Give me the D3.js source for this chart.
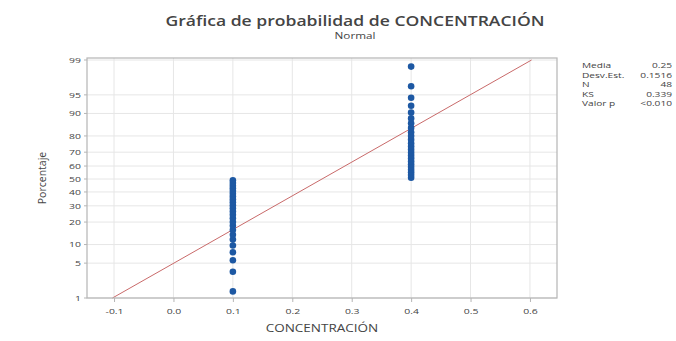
<!DOCTYPE html>
<html>
<head>
<meta charset="utf-8">
<script src="https://cdn.jsdelivr.net/npm/d3@7"></script>
<style>
  body { margin: 0; background: #fff; }
  text { font-family: "Open Sans", "Noto Sans", sans-serif; fill: #444; }
</style>
</head>
<body>
<svg id="chart" width="676" height="341"></svg>
<script>
// valores
var concentracion = [0.1,0.1,0.1,0.1,0.1,0.1,0.1,0.1,0.1,0.1,0.1,0.1,
                     0.1,0.1,0.1,0.1,0.1,0.1,0.1,0.1,0.1,0.1,0.1,0.1,
                     0.4,0.4,0.4,0.4,0.4,0.4,0.4,0.4,0.4,0.4,0.4,0.4,
                     0.4,0.4,0.4,0.4,0.4,0.4,0.4,0.4,0.4,0.4,0.4,0.4];
var porcentaje = [1.4,3.5,5.6,7.6,9.7,11.8,13.8,15.9,18.0,20.0,22.1,24.2,
                  26.2,28.3,30.4,32.4,34.5,36.6,38.6,40.7,42.8,44.8,46.9,49.0,
                  51.0,53.1,55.2,57.2,59.3,61.4,63.4,65.5,67.6,69.6,71.7,73.8,
                  75.8,77.9,80.0,82.0,84.1,86.2,88.2,90.3,92.4,94.4,96.5,98.6];
var xTicks = [-0.1,0.0,0.1,0.2,0.3,0.4,0.5,0.6];
var yTicks = [1,5,10,20,30,40,50,60,70,80,90,95,99];
var statLabels = ["Media","Desv.Est.","N","KS","Valor p"];
var statValues = ["0.25","0.1516","48","0.339","<0.010"];
var media = 0.25, desv = 0.1516;

// inversa de la normal (Acklam)
function probit(p) {
    var a = [-39.69683028665376,220.9460984245205,-275.9285104469687,138.3577518672690,-30.66479806614716,2.506628277459239],
        b = [-54.47609879822406,161.5858368580409,-155.6989798598866,66.80131188771972,-13.28068155288572],
        c = [-0.007784894002430293,-0.3223964580411365,-2.400758277161838,-2.549732539343734,4.374664141464968,2.938163982698783],
        d = [0.007784695709041462,0.3224671290700398,2.445134137142996,3.754408661907416];
    var q, r;
    if (p < 0.02425) {
        q = Math.sqrt(-2*Math.log(p));
        return (((((c[0]*q+c[1])*q+c[2])*q+c[3])*q+c[4])*q+c[5])/((((d[0]*q+d[1])*q+d[2])*q+d[3])*q+1);
    } else if (p > 1-0.02425) {
        q = Math.sqrt(-2*Math.log(1-p));
        return -(((((c[0]*q+c[1])*q+c[2])*q+c[3])*q+c[4])*q+c[5])/((((d[0]*q+d[1])*q+d[2])*q+d[3])*q+1);
    }
    q = p - 0.5; r = q*q;
    return (((((a[0]*r+a[1])*r+a[2])*r+a[3])*r+a[4])*r+a[5])*q/(((((b[0]*r+b[1])*r+b[2])*r+b[3])*r+b[4])*r+1);
}

// la imagen original esta estirada a lo ancho
function stretch(sel, k) {
    sel.each(function(){
        var w = this.getComputedTextLength();
        d3.select(this).attr("textLength", w * k).attr("lengthAdjust", "spacingAndGlyphs");
    });
}

var svg = d3.select("#chart");
var pLeft = 87, pRight = 557, pTop = 58, pBottom = 298;

var x = d3.scaleLinear().domain([-0.1455, 0.6455]).range([pLeft, pRight]);
var zScale = d3.scaleLinear().domain([probit(0.01), probit(0.99)]).range([pBottom, pTop + 2]);
var y = function(pct){ return zScale(probit(pct/100)); };

// rejilla
svg.append("g").selectAll("line").data(xTicks).enter().append("line")
    .attr("x1", d => x(d)).attr("x2", d => x(d))
    .attr("y1", pTop).attr("y2", pBottom)
    .attr("stroke", "#e6e6e6").attr("stroke-width", 1);
svg.append("g").selectAll("line").data(yTicks).enter().append("line")
    .attr("x1", pLeft).attr("x2", pRight)
    .attr("y1", d => y(d)).attr("y2", d => y(d))
    .attr("stroke", "#e6e6e6").attr("stroke-width", 1);

// linea de ajuste
var pLine = [1, 99];
svg.append("line")
    .attr("x1", x(media + probit(pLine[0]/100)*desv)).attr("y1", y(pLine[0]))
    .attr("x2", x(media + probit(pLine[1]/100)*desv)).attr("y2", y(pLine[1]))
    .attr("stroke", "#c96a6a").attr("stroke-width", 1);

// puntos
svg.append("g").selectAll("circle").data(concentracion).enter().append("circle")
    .attr("cx", d => x(d))
    .attr("cy", (d, i) => y(porcentaje[i]))
    .attr("r", 3.3)
    .attr("fill", "#1d58a3");

// marco
svg.append("rect")
    .attr("x", pLeft).attr("y", pTop)
    .attr("width", pRight - pLeft).attr("height", pBottom - pTop)
    .attr("fill", "none").attr("stroke", "#b5b5b5").attr("stroke-width", 1.2);

// eje x
var xAxis = svg.append("g").attr("transform", "translate(0," + pBottom + ")")
    .call(d3.axisBottom(x).tickValues(xTicks).tickSize(4).tickPadding(6)
        .tickFormat(d => d.toFixed(1)));
xAxis.select(".domain").remove();
xAxis.selectAll("line").attr("stroke", "#b5b5b5");
xAxis.selectAll("text").attr("font-size", 8).attr("fill", "#555");
stretch(xAxis.selectAll("text"), 1.3);

// eje y
var yAxis = svg.append("g").attr("transform", "translate(" + pLeft + ",0)");
yAxis.selectAll("line").data(yTicks).enter().append("line")
    .attr("x1", -3).attr("x2", 0)
    .attr("y1", d => y(d)).attr("y2", d => y(d))
    .attr("stroke", "#b5b5b5");
var yLab = yAxis.selectAll("text").data(yTicks).enter().append("text")
    .attr("x", -6).attr("y", d => y(d)).attr("dy", "0.35em")
    .attr("text-anchor", "end").attr("font-size", 8).attr("fill", "#555")
    .text(d => d);
stretch(yLab, 1.3);

// titulos
var titulo = svg.append("text").attr("x", 355).attr("y", 26).attr("text-anchor", "middle")
    .attr("font-size", 13.5).attr("font-weight", 600).attr("fill", "#555")
    .text("Gráfica de probabilidad de CONCENTRACIÓN");
stretch(titulo, 1.3);
var sub = svg.append("text").attr("x", 355).attr("y", 39).attr("text-anchor", "middle")
    .attr("font-size", 9).attr("fill", "#666").text("Normal");
stretch(sub, 1.3);
var xLab = svg.append("text").attr("x", (pLeft + pRight) / 2).attr("y", 332).attr("text-anchor", "middle")
    .attr("font-size", 10).text("CONCENTRACIÓN");
stretch(xLab, 1.35);
svg.append("text").attr("transform", "translate(46," + ((pTop + pBottom) / 2) + ") rotate(-90)")
    .attr("text-anchor", "middle").attr("font-size", 10.5).text("Porcentaje");

// tabla de estadisticos
var stats = svg.append("g");
var sLab = stats.selectAll("text.lab").data(statLabels).enter().append("text")
    .attr("class", "lab").attr("x", 582).attr("y", (d, i) => 68 + i * 9.6)
    .attr("font-size", 7.5).attr("fill", "#555").text(d => d);
stretch(sLab, 1.35);
var sVal = stats.selectAll("text.val").data(statValues).enter().append("text")
    .attr("class", "val").attr("x", 672).attr("y", (d, i) => 68 + i * 9.6)
    .attr("text-anchor", "end").attr("font-size", 7.5).attr("fill", "#555").text(d => d);
stretch(sVal, 1.35);
</script>
</body>
</html>
